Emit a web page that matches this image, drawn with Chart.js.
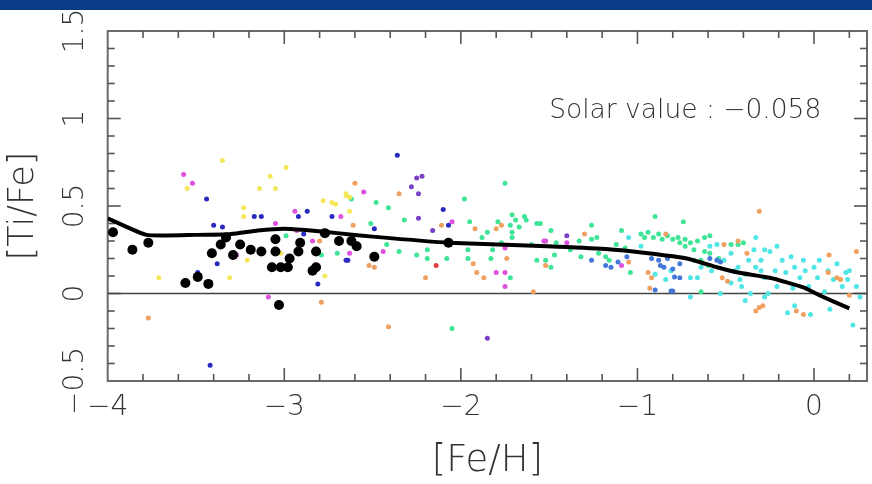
<!DOCTYPE html>
<html><head><meta charset="utf-8">
<script src="https://cdn.jsdelivr.net/npm/chart.js@4/dist/chart.umd.min.js"></script>
<style>html,body{margin:0;padding:0;background:#fff;overflow:hidden}</style>
</head><body><canvas id="c" width="872" height="484"></canvas>
<script>
// ---- axis ranges & tick labels ----
const xRange = [-4, 0.3];
const yRange = [-0.5, 1.5];
const xTickLabels = [-4, -3, -2, -1, 0];
const yTickLabels = [-0.5, 0, 0.5, 1, 1.5];
const xMinorStep = 0.2;
const yMinorStep = 0.1;
const xTitle = '[Fe/H]';
const yTitle = '[Ti/Fe]';
const solarText = 'Solar value : \u22120.058';
const solarPos = [-1.5, 1.04];

// ---- mean trend line ----
const trendX = [-4.0,-3.78,-3.5,-3.3,-3.15,-3.0,-2.85,-2.7,-2.5,-2.07,-1.51,-1.18,-0.94,-0.72,-0.55,-0.43,-0.25,-0.06,0.03,0.2];
const trendY = [0.43,0.335,0.335,0.34,0.36,0.37,0.36,0.345,0.325,0.29,0.27,0.254,0.23,0.20,0.15,0.12,0.09,0.035,-0.01,-0.085];
const zeroLineX = [-4, 0.3];
const zeroLineY = [0, 0];

// ---- star samples ([Fe/H], [Ti/Fe]) ----
const blackStars = [[-3.97,0.35],[-3.86,0.25],[-3.77,0.29],[-3.56,0.06],[-3.49,0.095],[-3.43,0.055],[-3.41,0.23],[-3.36,0.28],[-3.33,0.32],[-3.29,0.22],[-3.25,0.28],[-3.19,0.25],[-3.13,0.24],[-3.05,0.31],[-3.05,0.24],[-3.07,0.15],[-3.02,0.15],[-2.98,0.15],[-2.97,0.20],[-3.03,-0.066],[-2.92,0.24],[-2.91,0.29],[-2.82,0.24],[-2.84,0.13],[-2.82,0.15],[-2.77,0.345],[-2.69,0.30],[-2.62,0.30],[-2.59,0.27],[-2.49,0.21],[-2.07,0.29]];
const yellowStars = [[-3.55,0.60],[-3.35,0.76],[-3.71,0.09],[-3.31,0.09],[-3.23,0.49],[-3.23,0.44],[-3.25,0.27],[-3.21,0.19],[-3.14,0.60],[-3.08,0.67],[-3.05,0.60],[-2.99,0.72],[-2.78,0.53],[-2.73,0.52],[-2.71,0.51],[-2.77,0.10],[-2.65,0.56],[-3.02,0.23],[-2.65,0.57],[-2.63,0.55],[-2.63,0.47]];
const magentaStars = [[-3.57,0.68],[-3.52,0.63],[-3.09,-0.02],[-3.05,0.40],[-2.94,0.47],[-2.93,0.36],[-2.84,0.30],[-2.68,0.44],[-3.27,0.22],[-2.55,0.58],[-2.63,0.23],[-2.44,0.24],[-2.05,0.41],[-1.75,0.26],[-1.80,0.12],[-1.75,0.12],[-1.75,0.04],[-1.52,0.30],[-1.53,0.30],[-1.40,0.29],[-1.09,0.16]];
const blueStars = [[-3.44,0.54],[-3.49,0.12],[-3.40,0.39],[-3.35,0.38],[-3.38,0.17],[-3.17,0.44],[-3.13,0.44],[-2.87,0.47],[-2.92,0.44],[-2.89,0.34],[-2.73,0.44],[-2.81,0.055],[-2.65,0.19],[-2.36,0.79],[-2.49,0.37],[-2.64,0.19],[-2.10,0.48],[-2.07,0.39],[-3.42,-0.41]];
const purpleStars = [[-2.25,0.66],[-2.22,0.67],[-2.28,0.61],[-2.24,0.57],[-2.24,0.43],[-2.16,0.36],[-1.85,-0.255],[-1.40,0.33]];
const orangeStars = [[-2.80,0.30],[-2.79,-0.05],[-3.77,-0.14],[-2.35,0.57],[-2.60,0.63],[-2.61,0.39],[-2.52,0.16],[-2.49,0.15],[-2.11,0.39],[-2.20,0.09],[-1.92,0.37],[-1.93,0.17],[-1.91,0.12],[-1.87,0.09],[-1.80,0.37],[-1.77,0.39],[-1.74,0.20],[-1.59,0.01],[-1.52,0.16],[-2.41,-0.19],[-1.30,0.34],[-1.05,0.18],[-0.84,0.34],[-0.94,0.12],[-0.92,0.09],[-0.93,0.03],[-0.52,0.09],[-0.49,0.07],[-0.51,0.28],[-0.43,0.30],[-0.38,0.23],[-0.31,0.47],[-0.31,-0.08],[-0.29,-0.07],[-0.33,-0.10],[-0.10,-0.10],[-0.06,-0.12],[0.085,0.22],[0.24,0.24],[0.20,-0.01],[0.13,0.09],[0.15,0.08],[0.08,0.12]];
const redStars = [[-2.14,0.16]];
const greenStars = [[-2.99,0.33],[-2.79,0.22],[-2.70,0.23],[-2.62,0.54],[-2.48,0.52],[-2.41,0.49],[-2.51,0.40],[-2.32,0.42],[-2.42,0.28],[-2.35,0.24],[-2.25,0.22],[-2.19,0.25],[-2.19,0.20],[-2.08,0.20],[-1.98,0.54],[-1.95,0.41],[-1.88,0.32],[-1.85,0.35],[-1.96,0.25],[-1.96,0.20],[-1.83,0.20],[-1.82,0.25],[-1.75,0.63],[-1.79,0.41],[-1.72,0.39],[-1.71,0.45],[-1.69,0.42],[-1.67,0.38],[-1.64,0.44],[-1.63,0.42],[-1.71,0.35],[-1.77,0.29],[-1.71,0.32],[-1.72,0.09],[-1.57,0.40],[-1.55,0.40],[-1.60,0.28],[-1.57,0.19],[-1.52,0.30],[-2.05,-0.20],[-1.49,0.36],[-1.46,0.29],[-1.52,0.19],[-1.49,0.15],[-1.47,0.22],[-1.38,0.25],[-1.33,0.30],[-1.26,0.31],[-1.23,0.32],[-1.26,0.39],[-1.32,0.21],[-1.22,0.23],[-1.18,0.21],[-1.16,0.19],[-1.09,0.36],[-1.04,0.12],[-1.12,0.28],[-1.07,0.26],[-0.90,0.44],[-0.74,0.41],[-0.98,0.34],[-0.96,0.32],[-0.94,0.35],[-0.91,0.32],[-0.88,0.34],[-0.86,0.31],[-0.83,0.33],[-0.80,0.31],[-0.77,0.32],[-0.76,0.29],[-0.73,0.31],[-0.70,0.29],[-0.66,0.30],[-0.62,0.32],[-0.59,0.33],[-0.73,0.27],[-0.68,0.25],[-0.62,0.24],[-0.59,0.23],[-0.64,0.19],[-0.60,0.16],[-0.64,0.01],[-0.54,0.20],[-0.47,0.28],[-0.43,0.28],[-0.40,0.29]];
const midBlueStars = [[-1.26,0.19],[-1.18,0.16],[-1.15,0.15],[-1.11,0.18],[-1.06,0.21],[-0.92,0.20],[-0.88,0.19],[-0.83,0.20],[-0.87,0.16],[-0.85,0.15],[-0.80,0.14],[-0.76,0.17],[-0.76,0.09],[-0.79,0.095],[-0.90,0.02],[-0.81,0.014],[-0.80,0.014],[-0.59,0.20],[-0.55,0.19],[-0.53,0.18]];
const cyanStars = [[-1.05,0.32],[-0.98,0.27],[-0.90,0.11],[-0.84,0.08],[-0.81,0.13],[-0.70,0.09],[-0.68,0.19],[-0.64,0.15],[-0.59,0.27],[-0.55,0.28],[-0.51,0.19],[-0.47,0.23],[-0.45,0.13],[-0.42,0.08],[-0.41,0.04],[-0.39,0.11],[-0.37,0.19],[-0.34,0.25],[-0.33,0.32],[-0.30,0.19],[-0.30,0.13],[-0.28,0.09],[-0.26,0.00],[-0.25,0.24],[-0.22,0.13],[-0.21,0.04],[-0.18,0.19],[-0.16,0.12],[-0.15,-0.11],[-0.13,0.21],[-0.12,0.03],[-0.11,0.15],[-0.11,-0.07],[-0.08,0.09],[-0.06,0.19],[-0.05,0.13],[-0.03,0.04],[-0.02,-0.12],[0.00,0.15],[0.02,0.09],[0.03,0.19],[0.06,0.01],[0.08,0.13],[0.09,-0.09],[0.11,0.08],[0.13,0.17],[0.16,0.04],[0.18,0.12],[0.19,0.08],[0.20,0.13],[0.22,-0.18],[0.24,0.04],[0.26,-0.02],[-0.36,0.00],[-0.39,-0.04],[-0.47,0.06],[-0.53,0.00],[-0.28,0.25],[-0.21,0.27],[-0.33,0.15],[-0.43,0.15],[-0.70,-0.02],[-0.28,-0.02],[-0.58,0.13],[-0.66,0.09]];

const fmt = v => (v < 0 ? '\u2212' : '') + String(Math.abs(v));
const isIn = (arr, v) => arr.some(t => Math.abs(t - v) < 1e-6);
const pts = arr => arr.map(p => ({x: p[0], y: p[1]}));
const zip = (xs, ys) => xs.map((x, i) => ({x, y: ys[i]}));
const FONT = "'DejaVu Sans', 'Liberation Sans', sans-serif";

function starSet(data, color, r) {
  return {type: 'scatter', data: pts(data), backgroundColor: color, borderColor: color,
    borderWidth: 0, pointRadius: r, pointHoverRadius: r, pointStyle: 'circle'};
}

const framePlugin = {
  id: 'frame',
  beforeDatasetsDraw(chart) {
    const {ctx, chartArea: a, scales: {x, y}} = chart;
    ctx.save();
    ctx.strokeStyle = '#6a6a6a';
    ctx.lineWidth = 2;
    ctx.strokeRect(a.left, a.top, a.right - a.left, a.bottom - a.top);
    ctx.lineWidth = 1.6;
    ctx.strokeStyle = '#555';
    const seg = (x1, y1, x2, y2) => { ctx.beginPath(); ctx.moveTo(x1, y1); ctx.lineTo(x2, y2); ctx.stroke(); };
    x.ticks.forEach(t => {
      const px = x.getPixelForValue(t.value);
      if (px < a.left + 1 || px > a.right - 1) return;
      const L = isIn(xTickLabels, t.value) ? 13 : 7;
      seg(px, a.bottom, px, a.bottom - L);
      seg(px, a.top, px, a.top + L);
    });
    y.ticks.forEach(t => {
      const py = y.getPixelForValue(t.value);
      if (py < a.top + 1 || py > a.bottom - 1) return;
      const L = isIn(yTickLabels, t.value) ? 13 : 7;
      seg(a.left, py, a.left + L, py);
      seg(a.right, py, a.right - L, py);
    });
    ctx.restore();
  },
  afterDraw(chart) {
    const {ctx, scales: {x, y}} = chart;
    ctx.save();
    ctx.font = '200 26.5px ' + FONT;
    ctx.fillStyle = '#333';
    ctx.textBaseline = 'middle';
    ctx.textAlign = 'left';
    ctx.fillText(solarText, x.getPixelForValue(solarPos[0]), y.getPixelForValue(solarPos[1]));
    ctx.fillStyle = '#083c88';
    ctx.fillRect(0, 0, chart.width, 10);
    ctx.restore();
  }
};

new Chart(document.getElementById('c'), {
  type: 'scatter',
  data: {
    datasets: [
      {type: 'line', data: zip(trendX, trendY), borderColor: '#000', borderWidth: 4, pointRadius: 0, fill: false, tension: 0.15},
      starSet(blackStars, '#000', 5),
      starSet(redStars, '#e04040', 2.5),
      starSet(purpleStars, '#7a40c8', 2.5),
      starSet(blueStars, '#2a2ac0', 2.5),
      starSet(magentaStars, '#e050e0', 2.5),
      starSet(yellowStars, '#f4e85a', 2.5),
      starSet(midBlueStars, '#4478d8', 2.5),
      starSet(orangeStars, '#f0a060', 2.5),
      starSet(cyanStars, '#50e6e6', 2.5),
      starSet(greenStars, '#40e496', 2.5),
      {type: 'line', data: zip(zeroLineX, zeroLineY), borderColor: '#444', borderWidth: 1.5, pointRadius: 0, fill: false}
    ]
  },
  options: {
    responsive: false, animation: false, devicePixelRatio: 1,
    layout: {padding: {left: 0, right: 2, top: 31, bottom: 0}},
    plugins: {legend: {display: false}, tooltip: {enabled: false}},
    scales: {
      x: {
        type: 'linear', min: xRange[0], max: xRange[1],
        afterFit(s) { s.height = 103; },
        grid: {display: false, drawTicks: false}, border: {display: false},
        ticks: {stepSize: xMinorStep, autoSkip: false, includeBounds: false, maxRotation: 0, minRotation: 0,
          padding: 10, color: '#333', font: {family: FONT, size: 28, weight: 200},
          callback: v => isIn(xTickLabels, v) ? fmt(Math.round(v)) : ''},
        title: {display: true, text: xTitle, color: '#333', font: {family: FONT, size: 37, weight: 200}, padding: {top: 0, bottom: 0}}
      },
      y: {
        type: 'linear', min: yRange[0], max: yRange[1],
        afterFit(s) { s.width = 107.7; },
        grid: {display: false, drawTicks: false}, border: {display: false},
        ticks: {stepSize: yMinorStep, autoSkip: false, includeBounds: true, minRotation: 90, maxRotation: 90,
          crossAlign: 'center', padding: -2, color: '#333', font: {family: FONT, size: 28, weight: 200},
          callback: v => isIn(yTickLabels, v) ? fmt(Math.round(v * 10) / 10) : ''},
        title: {display: true, text: yTitle, color: '#333', font: {family: FONT, size: 35, weight: 200}, padding: {top: 3, bottom: 0}}
      }
    }
  },
  plugins: [framePlugin]
});
</script></body></html>
